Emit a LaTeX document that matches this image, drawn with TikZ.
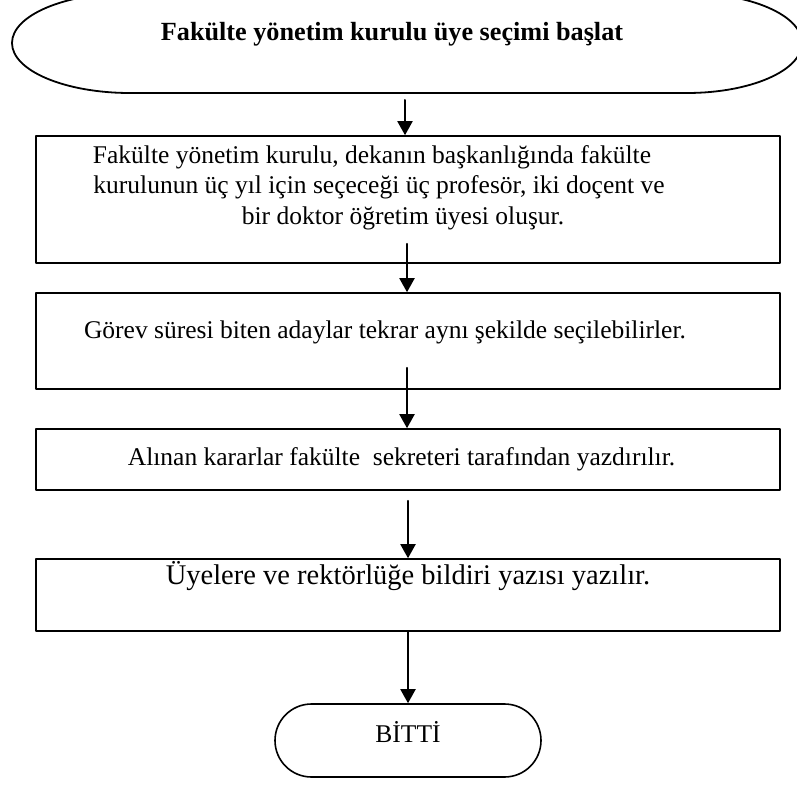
\documentclass[tikz,border=0pt]{standalone}
\usepackage{fontspec}
\setmainfont{Liberation Serif}
\usetikzlibrary{arrows.meta,shapes.misc}

\tikzset{
stepbox/.style={draw,line width=1.6pt,inner sep=0pt,minimum width=744pt},
endbox/.style={draw,line width=1.6pt,rounded rectangle,minimum width=266pt,minimum height=73pt,inner sep=0pt,text height=20pt,text depth=17pt},
arr/.style={->,line width=2pt}
}
\newcommand{\boxtext}[3]{\parbox[c][#1][t]{744pt}{\centering\rule{0pt}{#2}#3}}

\begin{document}
\begin{tikzpicture}[line cap=round,line join=round,>={Triangle[width=15pt,length=14pt]},x=1pt,y=-1pt,font=\fontsize{25.5}{30.5}\selectfont]
\useasboundingbox (0,0) rectangle (797,784);
\begin{scope}
\clip (0,0) rectangle (797,784);
\draw[line width=1.8pt] (130,93) -- (687,93) arc[start angle=-90,end angle=90,x radius=115pt,y radius=50pt] -- (130,-7) arc[start angle=90,end angle=270,x radius=118pt,y radius=50pt] -- cycle;
\end{scope}
\node[font=\fontsize{26.2}{30.5}\selectfont\bfseries,anchor=base] (start) at (392,41) {Fakülte yönetim kurulu üye seçimi başlat};
\coordinate (startend) at (405,100);
\node[stepbox] (kurul) at (408,199.5) {\boxtext{127pt}{27pt}{Fakülte yönetim kurulu, dekanın başkanlığında fakülte\hspace*{72pt}\mbox{}\\
kurulunun üç yıl için seçeceği üç profesör, iki doçent ve\hspace*{58pt}\mbox{}\\
bir doktor öğretim üyesi oluşur.\hspace*{10pt}}};
\node[stepbox] (gorev) at (408,341) {\boxtext{96pt}{45pt}{Görev süresi biten adaylar tekrar aynı şekilde seçilebilirler.\hspace*{46pt}}};
\node[stepbox] (karar) at (408,459.5) {\boxtext{61pt}{36pt}{Alınan kararlar fakülte\ \ sekreteri tarafından yazdırılır.\hspace*{13pt}}};
\node[stepbox] (bildiri) at (408,595) {\boxtext{72pt}{25pt}{\fontsize{28.5}{34}\selectfont Üyelere ve rektörlüğe bildiri yazısı yazılır.}};
\node[endbox] (bitti) at (408,740.5) {BİTTİ};
\draw[arr] (startend) -- (startend |- kurul.north);
\draw[arr] ([xshift=-1pt,yshift=20pt]kurul.south) -- ([xshift=-1pt]gorev.north);
\draw[arr] ([xshift=-1pt,yshift=22pt]gorev.south) -- ([xshift=-1pt]karar.north);
\draw[arr] ([yshift=-10pt]karar.south) -- (bildiri.north);
\draw[arr] (bildiri.south) -- (bitti.north);
\end{tikzpicture}
\end{document}
